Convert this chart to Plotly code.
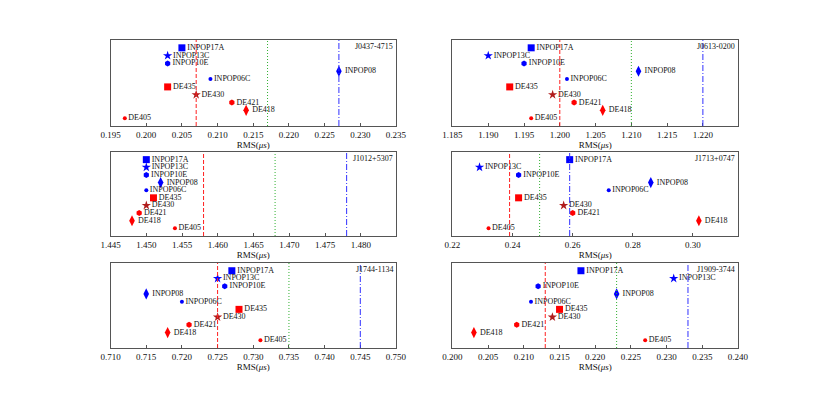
import plotly.graph_objects as go

ephemerides = ["INPOP17A", "INPOP13C", "INPOP10E", "INPOP08", "INPOP06C",
               "DE435", "DE430", "DE421", "DE418", "DE405"]
rank = [10, 9, 8, 7, 6, 5, 4, 3, 2, 1]

pulsars = ["J0437-4715", "J0613-0200", "J1012+5307", "J1713+0747", "J1744-1134", "J1909-3744"]

rms_j0437 = [0.205, 0.203, 0.203, 0.227, 0.209, 0.203, 0.207, 0.212, 0.214, 0.197]
rms_j0613 = [1.196, 1.190, 1.195, 1.211, 1.201, 1.193, 1.199, 1.202, 1.206, 1.196]
rms_j1012 = [1.450, 1.450, 1.450, 1.452, 1.450, 1.451, 1.450, 1.449, 1.448, 1.454]
rms_j1713 = [0.259, 0.229, 0.242, 0.286, 0.272, 0.242, 0.257, 0.260, 0.302, 0.232]
rms_j1744 = [0.727, 0.725, 0.726, 0.715, 0.720, 0.728, 0.725, 0.721, 0.718, 0.731]
rms_j1909 = [0.218, 0.231, 0.212, 0.223, 0.211, 0.215, 0.214, 0.209, 0.203, 0.227]
rms_all = [rms_j0437, rms_j0613, rms_j1012, rms_j1713, rms_j1744, rms_j1909]

red_line = [0.207, 1.200, 1.458, 0.239, 0.725, 0.213]
green_line = [0.217, 1.210, 1.468, 0.249, 0.735, 0.223]
blue_line = [0.227, 1.220, 1.478, 0.259, 0.745, 0.233]

x_ranges = [[0.195, 0.235], [1.185, 1.2249], [1.445, 1.4849],
            [0.22, 0.315], [0.710, 0.750], [0.200, 0.240]]
x_dticks = [0.005, 0.005, 0.005, 0.02, 0.005, 0.005]
x_formats = [".3f", ".3f", ".3f", ".2f", ".3f", ".3f"]

BLUE = "#0000ff"
RED = "#ff0000"
symbols = ["square", "star", "hexagon", "diamond-tall", "circle",
           "square", "star", "hexagon", "diamond-tall", "circle"]
colors = [BLUE] * 5 + [RED, "#b01c1c", RED, RED, RED]
sizes = [7, 7, 6, 8, 4, 7, 7, 6, 8, 4]

FONT = "Liberation Serif"

# page body keeps an 8px margin, so the figure is 814x383 drawn at (8, 8)
W, H = 814, 383
col_px = [[103, 396], [454, 747]]
row_px = [[40, 126], [152, 236], [263, 348]]
col_dom = [[(a - 8) / W, (b - 8) / W] for a, b in col_px]
row_dom = [[1 - (b - 8) / H, 1 - (a - 8) / H] for a, b in row_px]

fig = go.Figure()
shapes = []
annotations = []

for i, name in enumerate(pulsars):
    r, c = divmod(i, 2)
    k = "" if i == 0 else str(i + 1)
    xa, ya = "x" + k, "y" + k

    for val, col, dash in [(red_line[i], "#ff2020", "4px,2px"),
                           (green_line[i], "#30b030", "1px,2px"),
                           (blue_line[i], "#3030ff", "6px,2px,1px,2px")]:
        shapes.append(dict(type="line", xref=xa, yref=ya + " domain",
                           x0=val, x1=val, y0=0, y1=1,
                           line=dict(color=col, width=1, dash=dash)))

    fig.add_trace(go.Scatter(
        x=rms_all[i], y=rank, text=ephemerides,
        mode="markers+text", textposition="middle right",
        textfont=dict(family=FONT, size=8, color="#111"),
        marker=dict(symbol=symbols, color=colors, size=sizes, opacity=1, line=dict(width=0)),
        xaxis=xa, yaxis=ya, showlegend=False, cliponaxis=False,
    ))

    annotations.append(dict(text=name, xref=xa + " domain", yref=ya + " domain",
                            x=0.995, y=0.995, xanchor="right", yanchor="top",
                            showarrow=False, font=dict(family=FONT, size=8, color="#111")))

    axis_common = dict(showline=True, linecolor="#555", linewidth=1, mirror=True,
                       showgrid=False, zeroline=False)
    fig.update_layout({
        "xaxis" + k: dict(domain=col_dom[c], range=x_ranges[i], anchor=ya,
                          dtick=x_dticks[i], tick0=x_ranges[i][0], tickformat=x_formats[i],
                          ticks="inside", ticklen=3, tickcolor="#555",
                          tickfont=dict(family=FONT, size=9, color="#111"),
                          title=dict(text="RMS(<i>μs</i>)", standoff=0,
                                     font=dict(family=FONT, size=9, color="#111")),
                          **axis_common),
        "yaxis" + k: dict(domain=row_dom[r], range=[0, 11], anchor=xa,
                          showticklabels=False, ticks="", **axis_common),
    })

fig.update_layout(
    width=W, height=H,
    margin=dict(l=0, r=0, t=0, b=0),
    paper_bgcolor="white", plot_bgcolor="white",
    shapes=shapes, annotations=annotations,
)

fig.write_html("out.html")
